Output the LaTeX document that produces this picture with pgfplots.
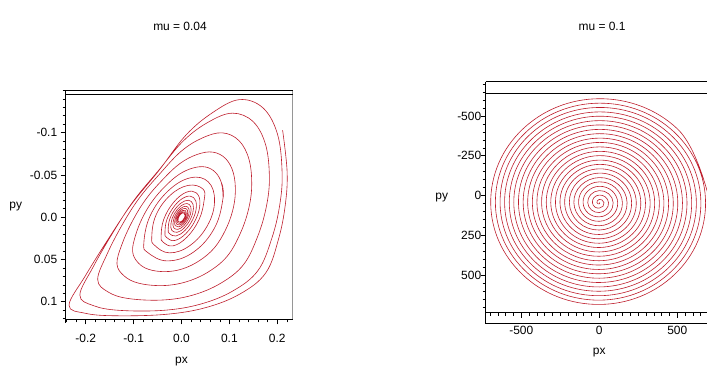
\documentclass[border=0pt]{standalone}
\usepackage{pgfplots}
\pgfplotsset{compat=1.18}
\usepackage{fontspec}
\setmainfont{Liberation Sans}
\definecolor{curve}{RGB}{190,30,45}
\definecolor{framegray}{RGB}{150,150,150}
\begin{document}
\begin{tikzpicture}[x=1bp,y=1bp]
\useasboundingbox (0,0) rectangle (707,369);
\clip (0,0) rectangle (707,369);
\pgfplotsset{
  every axis/.append style={
    scale only axis, y dir=reverse, axis line style={draw=none},
    tick align=outside, xtick pos=lower, ytick pos=left,
    major tick length=5bp, minor tick length=3bp,
    every tick/.style={black, line width=0.6bp},
    tick label style={font=\fontsize{12}{14}\selectfont, black},
  }
}
% ---------------- left panel ----------------
\begin{axis}[
  at={(65.7bp,49.7bp)}, anchor=south west,
  width=227bp, height=229.3bp,
  xmin=-0.2418, xmax=0.2322, ymin=-0.1505, ymax=0.1208,
  xtick={-0.2,-0.1,0,0.1,0.2}, xticklabels={-0.2,-0.1,0.0,0.1,0.2},
  ytick={-0.1,-0.05,0,0.05,0.1}, yticklabels={-0.1,-0.05,0.0,0.05,0.1},
  minor xtick={-0.24,-0.22,...,0.23},
  minor ytick={-0.15,-0.14,...,0.12},
  xticklabel style={yshift=-6.5bp},
]
\addplot[curve, line width=0.6bp, smooth, tension=0.62] coordinates {
(0.2111,-0.1030)
(0.2205,-0.0538) (0.2167,-0.0145) (0.2026,0.0259) (0.1759,0.0659) (0.1225,0.0907) (0.0503,0.1070) (-0.0343,0.1150) (-0.1396,0.1166) (-0.2014,0.1136) (-0.2348,0.1041) (-0.2004,0.0690) (-0.1521,0.0251) (-0.1041,-0.0156) (-0.0478,-0.0548) (0.0089,-0.0969) (0.0648,-0.1237) (0.1208,-0.1391) (0.1702,-0.1293) (0.2007,-0.0978)
(0.2101,-0.0519) (0.2049,-0.0137) (0.1885,0.0251) (0.1596,0.0632) (0.1074,0.0872) (0.0393,0.1029) (-0.0380,0.1102) (-0.1299,0.1102) (-0.1840,0.1046) (-0.2122,0.0922) (-0.1843,0.0587) (-0.1431,0.0181) (-0.0998,-0.0196) (-0.0485,-0.0549) (0.0041,-0.0904) (0.0557,-0.1124) (0.1063,-0.1231) (0.1495,-0.1131) (0.1758,-0.0854)
(0.1835,-0.0464) (0.1770,-0.0120) (0.1590,0.0228) (0.1294,0.0562) (0.0820,0.0781) (0.0234,0.0922) (-0.0402,0.0980) (-0.1112,0.0962) (-0.1535,0.0884) (-0.1750,0.0738) (-0.1559,0.0443) (-0.1247,0.0099) (-0.0889,-0.0221) (-0.0457,-0.0511) (-0.0007,-0.0780) (0.0436,-0.0938) (0.0855,-0.0998) (0.1202,-0.0905) (0.1410,-0.0683)
(0.1466,-0.0379) (0.1400,-0.0095) (0.1228,0.0191) (0.0957,0.0460) (0.0564,0.0646) (0.0101,0.0764) (-0.0383,0.0809) (-0.0885,0.0782) (-0.1195,0.0696) (-0.1348,0.0551) (-0.1236,0.0310) (-0.1017,0.0038) (-0.0740,-0.0216) (-0.0399,-0.0441) (-0.0035,-0.0634) (0.0324,-0.0742) (0.0656,-0.0770) (0.0923,-0.0692) (0.1083,-0.0523)
(0.1124,-0.0296) (0.1066,-0.0073) (0.0917,0.0153) (0.0687,0.0362) (0.0375,0.0514) (0.0022,0.0611) (-0.0337,0.0644) (-0.0687,0.0617) (-0.0910,0.0536) (-0.1021,0.0405) (-0.0960,0.0214) (-0.0811,0.0002) (-0.0601,-0.0196) (-0.0336,-0.0369) (-0.0047,-0.0508) (0.0240,-0.0582) (0.0503,-0.0594) (0.0710,-0.0530) (0.0836,-0.0403)
(0.0869,-0.0234)
};
\addplot[curve, line width=0.6bp, smooth, tension=0.68] coordinates {
(0.0836,-0.0403)
(0.0869,-0.0234) (0.0694,0.0123) (0.0253,0.0412) (-0.0292,0.0517) (-0.0705,0.0418) (-0.0786,0.0304) (-0.0655,-0.0016) (-0.0283,-0.0309) (0.0184,-0.0466) (0.0561,-0.0417)
(0.0690,-0.0188) (0.0541,0.0100) (0.0177,0.0335) (-0.0250,0.0422) (-0.0558,0.0334) (-0.0621,0.0235) (-0.0534,-0.0023) (-0.0237,-0.0259) (0.0144,-0.0377) (0.0449,-0.0333)
(0.0472,-0.0199) (0.0365,0.0030) (0.0111,0.0238) (-0.0178,0.0339) (-0.0383,0.0295) (-0.0425,0.0225) (-0.0371,0.0026) (-0.0166,-0.0175) (0.0099,-0.0295) (0.0311,-0.0287)
(0.0385,-0.0162) (0.0298,0.0025) (0.0091,0.0194) (-0.0145,0.0276) (-0.0311,0.0240) (-0.0345,0.0182) (-0.0301,0.0021) (-0.0134,-0.0142) (0.0080,-0.0239) (0.0252,-0.0233)
(0.0311,-0.0131) (0.0241,0.0020) (0.0073,0.0156) (-0.0117,0.0222) (-0.0251,0.0194) (-0.0278,0.0147) (-0.0242,0.0017) (-0.0108,-0.0114) (0.0065,-0.0192) (0.0202,-0.0187)
(0.0250,-0.0105) (0.0193,0.0016) (0.0059,0.0126) (-0.0094,0.0179) (-0.0202,0.0156) (-0.0224,0.0118) (-0.0195,0.0014) (-0.0087,-0.0092) (0.0052,-0.0155) (0.0163,-0.0150)
(0.0201,-0.0085) (0.0155,0.0013) (0.0047,0.0101) (-0.0076,0.0144) (-0.0162,0.0125) (-0.0179,0.0095) (-0.0156,0.0011) (-0.0070,-0.0074) (0.0042,-0.0124) (0.0130,-0.0120)
(0.0161,-0.0068) (0.0124,0.0010) (0.0038,0.0081) (-0.0061,0.0115) (-0.0130,0.0100) (-0.0144,0.0076) (-0.0125,0.0009) (-0.0056,-0.0059) (0.0033,-0.0100) (0.0105,-0.0097)
(0.0129,-0.0054) (0.0100,0.0008) (0.0030,0.0065) (-0.0049,0.0092) (-0.0104,0.0080) (-0.0115,0.0061) (-0.0100,0.0007) (-0.0045,-0.0047) (0.0027,-0.0080) (0.0084,-0.0077)
(0.0103,-0.0043) (0.0080,0.0007) (0.0024,0.0052) (-0.0039,0.0074) (-0.0083,0.0064) (-0.0092,0.0049) (-0.0080,0.0006) (-0.0036,-0.0038) (0.0021,-0.0063) (0.0067,-0.0062)
(0.0082,-0.0035) (0.0063,0.0005) (0.0019,0.0041) (-0.0031,0.0058) (-0.0066,0.0051) (-0.0073,0.0039) (-0.0063,0.0004) (-0.0028,-0.0030) (0.0017,-0.0050) (0.0053,-0.0049)
(0.0065,-0.0027)
};
\end{axis}
% ---------------- right panel ----------------
\begin{axis}[
  at={(485.7bp,56.3bp)}, anchor=south west,
  width=227.5bp, height=231bp,
  xmin=-728, xmax=730, ymin=-716, ymax=737,
  xtick={-500,0,500}, xticklabels={-500,0,500},
  ytick={-500,-250,0,250,500}, yticklabels={-500,-250,0,250,500},
  minor xtick={-700,-650,...,700},
  minor ytick={-700,-650,...,700},
  xticklabel style={yshift=-5bp},
  yticklabel style={xshift=4bp},
]
\addplot[curve, line width=0.6bp, smooth, tension=0.68] coordinates {
(0,45) (3,47) (0,52) (-8,52) (-15,45) (-13,33) (0,24) (18,28)
(30,45) (24,67) (0,79) (-29,72) (-44,45) (-34,13) (0,-3) (39,9)
(59,45) (44,86) (0,107) (-50,91) (-74,45) (-55,-6) (0,-31) (60,-11)
(89,45) (65,106) (0,134) (-71,111) (-104,45) (-76,-26) (0,-58) (81,-30)
(118,45) (86,125) (0,162) (-92,130) (-133,45) (-97,-45) (0,-86) (102,-50)
(148,45) (107,145) (0,190) (-112,150) (-163,45) (-118,-64) (0,-113) (123,-69)
(178,45) (128,164) (0,217) (-133,169) (-192,45) (-139,-84) (0,-141) (144,-89)
(207,45) (149,184) (0,245) (-154,189) (-222,45) (-160,-103) (0,-168) (165,-108)
(237,45) (170,203) (0,272) (-175,208) (-252,45) (-181,-123) (0,-196) (186,-128)
(266,45) (191,223) (0,300) (-196,228) (-281,45) (-201,-142) (0,-223) (207,-147)
(296,45) (212,242) (0,327) (-217,247) (-311,45) (-222,-162) (0,-251) (228,-167)
(326,45) (233,262) (0,355) (-238,266) (-340,45) (-243,-181) (0,-278) (249,-186)
(355,45) (254,281) (0,382) (-259,286) (-370,45) (-264,-201) (0,-306) (269,-206)
(385,45) (275,300) (0,410) (-280,305) (-400,45) (-285,-220) (0,-334) (290,-225)
(414,45) (296,320) (0,437) (-301,325) (-429,45) (-306,-240) (0,-361) (311,-245)
(444,45) (317,339) (0,465) (-322,344) (-459,45) (-327,-259) (0,-389) (332,-264)
(474,45) (338,359) (0,492) (-343,364) (-488,45) (-348,-279) (0,-416) (353,-283)
(503,45) (358,378) (0,520) (-364,383) (-518,45) (-369,-298) (0,-444) (374,-303)
(533,45) (379,398) (0,547) (-385,403) (-548,45) (-390,-318) (0,-471) (395,-322)
(562,45) (400,417) (0,575) (-406,422) (-577,45) (-411,-337) (0,-499) (416,-342)
(592,45) (421,437) (0,602) (-426,442) (-607,45) (-432,-356) (0,-526) (437,-361)
(622,45) (442,456) (0,630) (-447,461) (-636,45) (-453,-376) (0,-554) (458,-381)
(651,45) (463,476) (0,658) (-468,480) (-666,45) (-474,-395) (0,-581) (479,-400)
(681,45) (484,495) (0,685) (-489,500) (-696,45) (-494,-415) (0,-609) (500,-420)
(710,45)
};
\end{axis}
% ---------------- frames ----------------
\begin{scope}[line width=0.8bp]
\draw[framegray] (292.7,279) -- (292.7,49.7);
\draw (65.7,279) -- (292.7,279);
\draw (65.7,275) -- (292.7,275);
\draw (65.7,279) -- (65.7,45.7);
\draw (65.7,49.7) -- (292.7,49.7);
\draw (485.7,287.3) -- (713,287.3);
\draw (485.7,275.7) -- (713,275.7);
\draw (485.7,287.3) -- (485.7,45.7) -- (713,45.7);
\draw (485.7,56.3) -- (713,56.3);
\end{scope}
% ---------------- texts ----------------
\begin{scope}[font=\fontsize{12}{14}\selectfont]
\node at (180,343) {mu = 0.04};
\node at (602,343) {mu = 0.1};
\node at (181.5,7.3) {px};
\node at (599.3,16) {px};
\node at (15.7,162.3) {py};
\node at (441.7,171) {py};
\end{scope}
\end{tikzpicture}
\end{document}
